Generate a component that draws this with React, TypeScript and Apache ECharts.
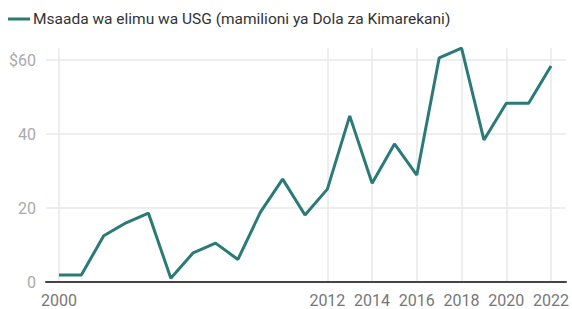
import React, { useEffect, useRef } from "react";
import * as echarts from "echarts";

const years = ["2000","2001","2002","2003","2004","2005","2006","2007","2008","2009","2010","2011","2012","2013","2014","2015","2016","2017","2018","2019","2020","2021","2022"];
const aid = [1.9, 1.9, 12.5, 16.0, 18.6, 1.0, 7.9, 10.5, 6.1, 18.8, 27.8, 18.1, 25.1, 44.9, 26.7, 37.3, 28.9, 60.6, 63.2, 38.4, 48.3, 48.3, 58.4];
const seriesName = "Msaada wa elimu wa USG (mamilioni ya Dola za Kimarekani)";
const labeledYears = ["2000", "2012", "2014", "2016", "2018", "2020", "2022"];

const FONT = "Roboto, 'Noto Sans', sans-serif";
const LINE_COLOR = "#2a7a78";

export default function App() {
  const ref = useRef<HTMLDivElement>(null);
  useEffect(() => {
    if (!ref.current) return;
    document.body.style.margin = "0";
    const chart = echarts.init(ref.current, null, { renderer: "svg" });
    const bottom = 27;
    const wideTop = 60;
    const plotH = 309 - bottom - wideTop; // for 0..60
    const perUnit = plotH / 60;
    const dataMax = Math.max(...aid);
    const narrowTop = 309 - bottom - dataMax * perUnit;
    const showYear = (i: number) => labeledYears.indexOf(years[i]) >= 0;
    chart.setOption({
      animation: false,
      textStyle: { fontFamily: FONT },
      graphic: [
        {
          type: "line",
          shape: { x1: 8, y1: 19, x2: 30, y2: 19 },
          style: { stroke: LINE_COLOR, lineWidth: 3 },
        },
        {
          type: "text",
          x: 33,
          y: 19,
          style: {
            text: seriesName,
            fill: "#333",
            font: `15.5px ${FONT}`,
            textVerticalAlign: "middle",
            verticalAlign: "middle",
          },
        },
      ],
      grid: [
        { left: 46, right: 6, top: wideTop, bottom },
        { left: 59, right: 20, top: narrowTop, bottom },
      ],
      xAxis: [
        {
          type: "value",
          gridIndex: 0,
          min: 0,
          max: 1,
          axisLine: { show: true, onZero: false, lineStyle: { color: "#444", width: 2 } },
          axisTick: { show: false },
          axisLabel: { show: false },
          splitLine: { show: false },
        },
        {
          type: "category",
          gridIndex: 1,
          data: years,
          boundaryGap: false,
          axisLine: { show: false },
          axisTick: { show: false },
          axisLabel: {
            interval: (i: number) => showYear(i),
            color: "#777",
            fontSize: 16,
            margin: 10,
            fontFamily: FONT,
          },
          splitLine: {
            show: true,
            interval: (i: number) => showYear(i),
            lineStyle: { color: "#e8e8e8", width: 1.5 },
          },
        },
      ],
      yAxis: [
        {
          type: "value",
          gridIndex: 0,
          min: 0,
          max: 60,
          interval: 20,
          axisLine: { show: false },
          axisTick: { show: false },
          axisLabel: {
            color: "#aaa",
            fontSize: 16,
            margin: 10,
            fontFamily: FONT,
            formatter: (v: number) => (v === 60 ? "$" + v : String(v)),
          },
          splitLine: { show: true, lineStyle: { color: "#e8e8e8", width: 1.5 } },
        },
        {
          type: "value",
          gridIndex: 1,
          min: 0,
          max: dataMax,
          show: false,
          splitLine: { show: false },
        },
      ],
      series: [
        {
          name: seriesName,
          type: "line",
          xAxisIndex: 1,
          yAxisIndex: 1,
          data: aid,
          showSymbol: false,
          symbol: "none",
          lineStyle: { color: LINE_COLOR, width: 3 },
          itemStyle: { color: LINE_COLOR },
          z: 5,
        },
      ],
    });
    return () => chart.dispose();
  }, []);
  return <div ref={ref} style={{ width: 572, height: 309 }} />;
}
